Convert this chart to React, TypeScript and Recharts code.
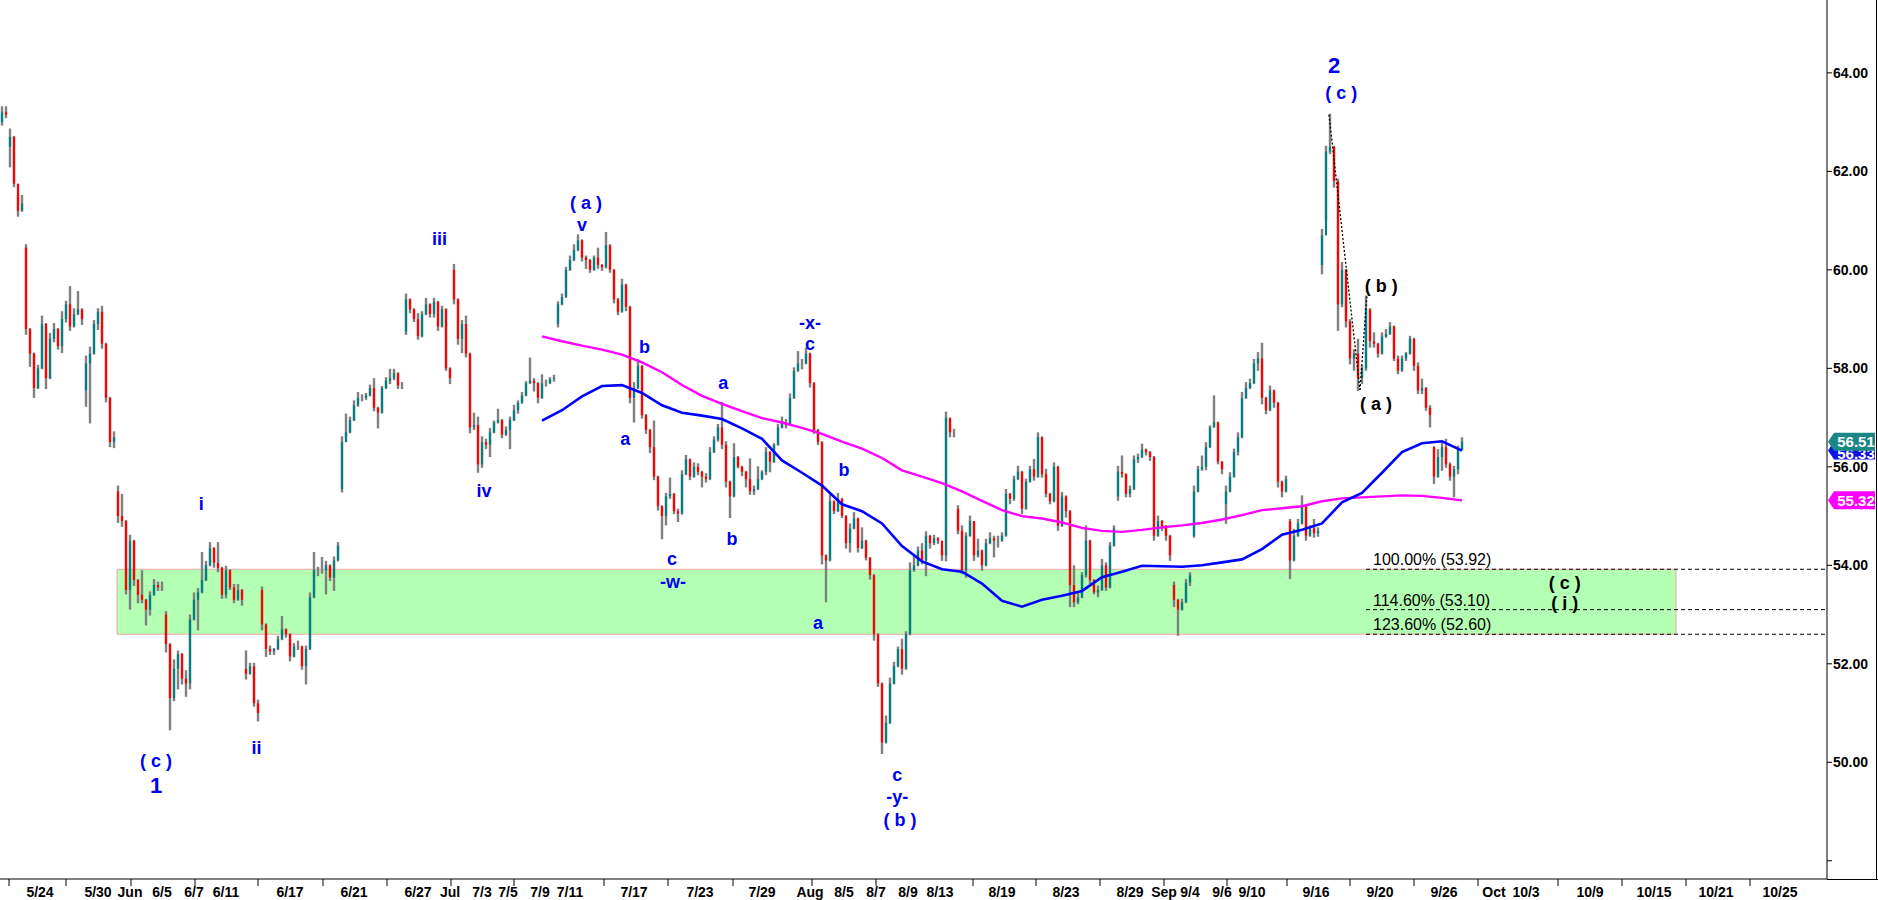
import React from "react";
import {
    ComposedChart,
    Bar,
    Line,
    XAxis,
    YAxis,
    ReferenceArea,
    ReferenceLine,
    ReferenceDot,
} from "recharts";

const FONT = '"Liberation Sans", Arial, sans-serif';

// bars: [high, low, close] or [high, low, close, open] when the bar opens away from the prior close
const mayJunBars = [
    [63.3, 62.95, 63.2, 63.0], [63.3, 63.1, 63.15], [62.85, 62.1, 62.7, 62.5], [62.7, 61.7, 61.75], [61.5, 61.1, 61.2],
    [61.5, 61.2, 61.35], [60.5, 58.7, 58.8, 60.45], [58.8, 58.05, 58.3], [58.3, 57.42, 57.6], [58.05, 57.6, 58.0],
    [59.05, 58.0, 58.9], [58.9, 57.6, 57.8], [58.7, 57.8, 58.6], [58.9, 58.55, 58.8], [58.8, 58.4, 58.45],
    [59.14, 58.33, 59.0], [59.35, 58.95, 59.3], [59.65, 58.78, 58.85], [59.2, 58.85, 59.1], [59.55, 59.1, 59.2],
    [59.2, 58.9, 59.0], [58.24, 57.24, 58.1, 57.55], [58.42, 56.9, 58.3], [58.96, 58.3, 58.9], [59.2, 58.8, 59.15],
    [59.25, 58.42, 58.5], [58.5, 57.33, 57.4], [57.4, 56.42, 56.5], [56.7, 56.4, 56.6], [55.6, 54.88, 55.0, 55.5],
    [55.43, 54.8, 54.9], [54.9, 53.43, 53.5], [54.6, 53.12, 54.5], [54.5, 53.6, 53.7], [53.7, 53.25, 53.4],
    [53.88, 53.25, 53.3], [53.3, 52.8, 53.1], [53.45, 53.0, 53.4], [53.7, 53.4, 53.6], [53.65, 53.5, 53.55],
    [53.65, 53.5, 53.55], [53.05, 52.25, 52.4, 53.0], [52.4, 50.67, 51.3], [52.07, 51.26, 51.9], [52.25, 51.5, 52.2],
    [52.2, 51.6, 51.7], [51.85, 51.35, 51.6], [52.98, 51.5, 52.9], [53.43, 52.9, 53.3], [53.52, 52.7, 53.45],
    [54.25, 53.45, 53.7], [54.07, 53.7, 54.0], [54.45, 54.0, 54.35], [54.35, 53.97, 54.05], [54.45, 53.88, 53.95],
    [53.95, 53.34, 53.4], [53.97, 53.35, 53.9], [53.9, 53.52, 53.55], [53.6, 53.25, 53.3], [53.6, 53.3, 53.5],
    [53.5, 53.2, 53.3], [52.25, 51.7, 51.8, 51.9], [52.0, 51.8, 51.95], [52.0, 51.15, 51.2], [51.25, 50.85, 51.0],
    [53.55, 52.7, 52.8, 53.5], [52.8, 52.16, 52.3], [52.35, 52.2, 52.25], [52.3, 52.2, 52.3], [52.55, 52.3, 52.5],
    [52.95, 52.5, 52.7], [52.7, 52.55, 52.6], [52.6, 52.07, 52.15], [52.4, 52.15, 52.35], [52.45, 52.3, 52.35],
    [52.35, 51.9, 51.95], [52.35, 51.6, 52.3], [53.43, 52.3, 53.35], [54.25, 53.35, 53.9], [53.95, 53.8, 53.9],
    [54.15, 53.85, 53.9], [54.07, 53.43, 54.0], [54.0, 53.7, 53.75], [54.16, 53.5, 54.1], [54.45, 54.1, 54.4],
    [56.6, 55.5, 56.5, 55.55], [57.06, 56.6, 56.7], [57.0, 56.7, 56.95], [57.33, 56.95, 57.25], [57.5, 57.24, 57.4],
    [57.45, 57.35, 57.4], [57.48, 57.38, 57.45], [57.65, 57.45, 57.6], [57.78, 57.15, 57.2], [57.2, 56.8, 57.1],
    [57.62, 57.1, 57.6], [57.8, 57.6, 57.75], [57.97, 57.7, 57.8], [57.97, 57.78, 57.9], [57.9, 57.6, 57.65],
    [57.7, 57.6, 57.65], [59.5, 58.7, 59.4, 58.75], [59.4, 59.14, 59.2], [59.2, 58.96, 59.0], [59.1, 58.6, 58.65],
    [59.14, 58.65, 59.1], [59.41, 59.1, 59.3], [59.3, 59.05, 59.1], [59.41, 59.05, 59.35], [59.35, 58.78, 58.85],
    [59.25, 58.85, 59.2], [59.2, 57.97, 58.0],
];

const julBars = [
    [58.0, 57.7, 57.8], [60.1, 59.32, 59.4, 60.0], [59.4, 58.5, 58.6], [58.96, 58.33, 58.9], [59.05, 58.24, 58.3],
    [58.3, 56.7, 56.8], [57.08, 56.77, 56.85], [57.0, 55.9, 56.05],
    [56.6, 56.0, 56.5], [56.55, 56.38, 56.45], [56.77, 56.22, 56.7], [56.92, 56.7, 56.9], [57.16, 56.9, 56.95],
    [56.95, 56.6, 56.65], [56.8, 56.65, 56.75], [57.0, 56.38, 56.95], [57.24, 56.95, 57.15], [57.33, 57.1, 57.3],
    [57.5, 57.3, 57.45], [57.72, 57.45, 57.7], [58.2, 57.7, 57.75], [57.78, 57.55, 57.7], [57.7, 57.31, 57.4],
    [57.86, 57.4, 57.7], [57.75, 57.65, 57.7], [57.8, 57.7, 57.78], [57.85, 57.75, 57.8], [59.34, 58.85, 59.3, 58.9],
    [59.5, 59.3, 59.45], [60.04, 59.45, 60.0], [60.27, 60.0, 60.2], [60.5, 60.2, 60.4], [60.7, 60.4, 60.6],
    [60.6, 60.19, 60.25], [60.27, 60.04, 60.2], [60.2, 59.96, 60.0], [60.27, 60.0, 60.25], [60.43, 60.04, 60.1],
    [60.1, 60.0, 60.05], [60.75, 60.05, 60.5], [60.5, 59.96, 60.0], [60.0, 59.34, 59.4], [59.41, 59.1, 59.15],
    [59.8, 59.15, 59.7], [59.7, 59.18, 59.25], [59.25, 57.31, 57.4], [57.7, 56.92, 57.6], [58.17, 57.6, 58.05],
    [58.05, 57.0, 57.05], [57.05, 56.69, 56.75], [56.75, 56.3, 56.4], [56.92, 55.75, 55.8], [55.8, 55.13, 55.2],
    [55.2, 54.55, 55.0], [55.45, 54.83, 55.4], [55.76, 55.37, 55.45], [55.45, 55.06, 55.1], [55.13, 54.9, 55.05],
    [55.91, 55.05, 55.85], [56.22, 55.85, 56.15], [56.15, 55.75, 55.8], [56.07, 55.8, 56.0], [56.05, 55.85, 55.9],
    [55.9, 55.6, 55.8], [55.85, 55.7, 55.75], [56.38, 55.75, 56.3], [56.6, 56.3, 56.55], [56.85, 56.53, 56.8],
    [57.3, 56.38, 56.45], [56.5, 55.6, 55.7], [55.7, 54.98, 55.4], [56.46, 55.4, 56.2], [56.2, 55.99, 56.0],
    [56.0, 55.83, 55.9], [55.9, 55.6, 55.75], [56.15, 55.45, 55.5], [55.6, 55.45, 55.55], [55.99, 55.55, 55.75],
    [55.91, 55.75, 55.9], [56.38, 55.85, 56.3], [56.3, 55.91, 56.1], [56.46, 56.1, 56.45], [56.85, 56.45, 56.8],
    [57.0, 56.8, 56.9], [56.95, 56.8, 56.85], [57.47, 56.85, 57.4], [58.0, 57.4, 57.95], [58.33, 57.95, 58.1],
    [58.17, 58.0, 58.1], [58.4, 58.1, 58.3],
];

const augBars = [
    [58.3, 57.63, 57.7], [57.7, 56.69, 56.75], [56.75, 56.46, 56.5], [56.5, 54.04, 54.2], [54.2, 53.27, 54.1],
    [55.45, 54.1, 55.3], [55.3, 55.06, 55.1], [55.45, 55.1, 55.35],
    [55.35, 54.98, 55.0], [55.0, 54.36, 54.45], [54.83, 54.28, 54.75], [55.06, 54.75, 54.95], [54.95, 54.28, 54.35],
    [54.75, 54.35, 54.5], [54.5, 54.12, 54.15], [54.15, 53.73, 53.8], [53.8, 52.49, 52.6], [52.6, 51.55, 51.6],
    [51.6, 50.19, 50.4], [50.93, 50.4, 50.8], [51.7, 50.8, 51.6], [52.02, 51.6, 51.95], [52.33, 51.95, 52.3],
    [52.49, 51.8, 51.9], [52.64, 51.9, 52.6], [54.04, 52.6, 53.9], [54.2, 53.89, 54.0], [54.36, 54.0, 54.3],
    [54.43, 54.04, 54.1], [54.67, 53.8, 54.6], [54.6, 54.36, 54.45], [54.6, 54.43, 54.55], [54.55, 54.45, 54.5],
    [54.3, 54.11, 54.2], [57.1, 54.1, 57.0], [56.95, 56.62, 56.7], [56.75, 56.62, 56.7], [55.2, 54.65, 54.7, 55.15],
    [54.79, 53.84, 53.9], [54.65, 53.77, 54.6], [54.99, 54.6, 54.9], [54.86, 54.11, 54.2], [54.52, 54.18, 54.3],
    [54.3, 53.91, 54.0], [54.52, 54.0, 54.45], [54.65, 54.45, 54.55], [54.58, 54.18, 54.5], [54.58, 54.38, 54.5],
    [54.65, 54.5, 54.6], [55.53, 54.6, 55.45], [55.45, 55.26, 55.35], [55.8, 55.33, 55.75], [56.0, 55.75, 55.9],
    [55.9, 55.06, 55.15], [55.74, 55.15, 55.7], [56.0, 55.7, 55.95], [56.14, 55.74, 55.8], [56.68, 55.8, 56.6],
    [56.6, 55.8, 55.85], [55.94, 55.4, 55.45], [55.45, 55.26, 55.3], [56.07, 55.3, 56.0], [56.0, 54.72, 54.8],
    [55.47, 54.8, 55.4], [55.4, 54.99, 55.1], [55.1, 53.17, 53.6], [53.98, 53.17, 53.25], [53.43, 53.23, 53.35],
    [53.84, 53.35, 53.8], [54.79, 53.77, 54.5], [54.5, 53.64, 53.7], [53.7, 53.43, 53.45], [53.57, 53.37, 53.5],
    [54.11, 53.5, 54.0], [54.04, 53.5, 53.55], [54.45, 53.55, 54.4], [54.79, 54.4, 54.75], [56.0, 55.33, 55.9, 55.4],
    [56.21, 55.8, 55.85], [55.85, 55.4, 55.45], [55.6, 55.4, 55.55], [56.21, 55.55, 56.15], [56.25, 56.1, 56.2],
    [56.45, 56.2, 56.35], [56.35, 56.25, 56.3], [56.3, 56.14, 56.2], [56.2, 54.52, 54.6], [54.99, 54.6, 54.9],
    [54.9, 54.72, 54.8],
];

const sepBars = [
    [54.8, 54.52, 54.6], [54.6, 54.11, 54.2], [53.65, 53.17, 53.3, 53.6], [53.3, 52.59, 53.1], [53.3, 53.1, 53.25],
    [53.7, 53.25, 53.65], [53.84, 53.6, 53.8], [55.6, 54.58, 55.5, 54.6], [56.0, 55.5, 55.95],
    [56.21, 55.94, 56.0], [56.48, 55.95, 56.4], [56.82, 56.4, 56.8], [57.43, 56.82, 56.9], [56.9, 56.07, 56.1],
    [56.1, 55.87, 55.95], [55.6, 54.86, 55.5, 55.25], [55.87, 55.5, 55.8], [56.35, 55.8, 56.3], [56.68, 56.25, 56.6],
    [57.5, 56.6, 57.4], [57.7, 57.4, 57.6], [57.77, 57.6, 57.7], [58.17, 57.7, 58.1], [58.31, 57.97, 58.2],
    [58.5, 57.29, 57.4], [57.4, 57.09, 57.15], [57.63, 57.15, 57.55], [57.55, 57.22, 57.3], [57.3, 55.6, 55.7],
    [55.7, 55.4, 55.5], [55.8, 55.5, 55.75], [54.92, 53.74, 54.1, 54.9], [54.72, 54.1, 54.6], [54.92, 54.6, 54.85],
    [55.4, 54.85, 55.2], [55.2, 54.52, 54.6], [54.79, 54.6, 54.75], [54.92, 54.58, 54.65], [54.75, 54.6, 54.7],
    [60.81, 59.93, 60.7, 60.1], [62.5, 61.02, 62.4], [63.15, 62.37, 62.5], [62.5, 61.69, 61.8], [61.83, 58.78, 59.3],
    [60.14, 59.26, 60.0], [60.0, 58.85, 58.95], [58.98, 58.1, 58.2], [58.37, 57.97, 58.3], [58.58, 57.56, 57.8],
    [58.04, 57.7, 58.0], [59.46, 57.97, 59.2], [59.2, 58.44, 58.55], [58.71, 58.44, 58.5], [58.5, 58.24, 58.3],
    [58.71, 58.3, 58.65], [58.78, 58.64, 58.7], [58.92, 58.7, 58.85], [58.85, 58.17, 58.2], [58.24, 57.9, 57.95],
    [58.24, 57.95, 58.2], [58.31, 58.17, 58.3], [58.64, 58.3, 58.6], [58.6, 57.97, 58.05], [58.1, 57.5, 57.55],
    [57.77, 57.5, 57.6], [57.6, 57.16, 57.2], [57.23, 56.82, 57.05], [56.4, 55.67, 55.8, 56.4], [56.34, 55.8, 56.2],
    [56.48, 55.94, 56.4], [56.55, 56.0, 56.05], [56.07, 55.74, 55.8], [56.0, 55.4, 55.95], [56.41, 55.87, 56.35],
    [56.58, 56.35, 56.51],
];

// moving averages read every 5 bars, starting at bar 135
const maStart = 135;
const maStep = 5;
const blueMa = [
    56.94, 57.15, 57.43, 57.64, 57.66, 57.5, 57.25, 57.1, 57.04, 56.97, 56.78, 56.57, 56.13, 55.88, 55.62, 55.24,
    55.1, 54.85, 54.39, 54.08, 53.92, 53.87, 53.63, 53.28, 53.16, 53.3, 53.38, 53.48, 53.76, 53.87, 53.99, 53.98,
    53.97, 54.0, 54.06, 54.12, 54.33, 54.62, 54.72, 54.85, 55.28, 55.47, 55.88, 56.3, 56.48, 56.52, 56.33,
];
const pinkMa = [
    58.65, 58.55, 58.46, 58.38, 58.28, 58.12, 57.92, 57.66, 57.44, 57.28, 57.13, 56.99, 56.9, 56.79, 56.67, 56.51,
    56.37, 56.18, 55.93, 55.8, 55.67, 55.5, 55.31, 55.12, 55.0, 54.95, 54.87, 54.76, 54.7, 54.68, 54.72, 54.77,
    54.81, 54.86, 54.93, 55.02, 55.12, 55.16, 55.2, 55.3, 55.36, 55.38, 55.4, 55.42, 55.41, 55.37, 55.32,
];

// date labels at bar positions (4 bars per trading day)
const dateTicks: [string, number][] = [
    ["5/24", 9.5], ["5/30", 24], ["Jun", 32], ["6/5", 40], ["6/7", 48], ["6/11", 56], ["6/17", 72],
    ["6/21", 88], ["6/27", 104], ["Jul", 112], ["7/3", 120], ["7/5", 126.5], ["7/9", 134.5], ["7/11", 142],
    ["7/17", 158], ["7/23", 174.5], ["7/29", 190], ["Aug", 202], ["8/5", 210.5], ["8/7", 218.5], ["8/9", 226.5],
    ["8/13", 234.5], ["8/19", 250], ["8/23", 266], ["8/29", 282], ["Sep", 290.5], ["9/4", 297], ["9/6", 305],
    ["9/10", 312.5], ["9/16", 328.5], ["9/20", 344.5], ["9/26", 360.5], ["Oct", 373], ["10/3", 381],
    ["10/9", 397], ["10/15", 413], ["10/21", 428.5], ["10/25", 444.5],
];
const weekMarks = [
    1.75, 16, 32.25, 48.25, 64, 80.25, 96.25, 112.25, 128, 150.5, 166.5, 182.75, 202.5, 218.5, 242.75, 258.5,
    274.5, 290.5, 306.25, 321.25, 337, 353, 369, 389, 405, 421, 437,
];
const priceTicks = [48, 50, 52, 54, 56, 58, 60, 62, 64];

// wave counts: [bar, price, text]
const blueNotes: [number, number, string][] = [
    [38.5, 50.02, "( c )"], [49.8, 55.24, "i"], [63.6, 50.3, "ii"], [109.4, 60.62, "iii"], [120.5, 55.5, "iv"],
    [146, 61.36, "( a )"], [145, 60.92, "v"], [155.8, 56.56, "a"], [160.6, 58.43, "b"], [167.5, 54.13, "c"],
    [167.75, 53.67, "-w-"], [180.3, 57.7, "a"], [182.5, 54.54, "b"], [202, 58.93, "-x-"], [202, 58.5, "c"],
    [204, 52.82, "a"], [210.5, 55.93, "b"], [223.8, 49.74, "c"], [223.8, 49.3, "-y-"], [224.5, 48.83, "( b )"],
    [334.8, 63.6, "( c )"],
];
const bigNotes: [number, number, string][] = [[38.5, 49.52, "1"], [333, 64.15, "2"]];
const blackNotes: [number, number, string][] = [
    [344.8, 59.68, "( b )"], [343.5, 57.27, "( a )"], [390.7, 53.65, "( c )"], [390.7, 53.23, "( i )"],
];
const wavePath: [number, number][] = [[331.75, 63.15], [339.5, 57.56], [341.2, 59.46]];

const fibLevels = [
    { pct: "100.00%", price: 53.92 },
    { pct: "114.60%", price: 53.1 },
    { pct: "123.60%", price: 52.6 },
];
const fibStart = 341;
const fibText = 342.75;
const zoneStart = 28.75;
const zoneEnd = 418.5;

const X_MAX = 456.25;

const allBars = [...mayJunBars, ...julBars, ...augBars, ...sepBars];
const rows: any[] = allBars.map((b, k) => {
    const prevClose = k > 0 ? allBars[k - 1][2] : b[2];
    return { k, h: b[0], l: b[1], c: b[2], o: b.length > 3 ? b[3] : prevClose };
});
blueMa.forEach((v, j) => { rows[maStart + j * maStep].blue = v; });
pinkMa.forEach((v, j) => { rows[maStart + j * maStep].pink = v; });

const lastClose = allBars[allBars.length - 1][2];
const lastBlue = blueMa[blueMa.length - 1];
const lastPink = pinkMa[pinkMa.length - 1];

const labelAt = new Map(dateTicks.map(([t, k]) => [k, t]));
const markSet = new Set(weekMarks);
const xTickValues = Array.from(new Set([...dateTicks.map((d) => d[1]), ...weekMarks])).sort((a, b) => a - b);

function renderCandle(props: any) {
    const { x, y, width, height, payload } = props;
    if (payload == null || x == null || y == null) return <g />;
    const { o, h, l, c } = payload;
    const span = h - l;
    const toY = (p: number) => (span > 0 ? y + ((h - p) / span) * height : y);
    const cx = x + width / 2;
    return (
        <g>
            <line x1={cx} x2={cx} y1={y - 1} y2={y + height + 1} stroke="#808080" strokeWidth={2.4} />
            <line x1={cx} x2={cx} y1={toY(o)} y2={toY(c)} stroke={c >= o ? "#008080" : "#ff0000"} strokeWidth={2.2} />
        </g>
    );
}

function XTick(props: any) {
    const { x, y, payload } = props;
    const label = labelAt.get(payload.value);
    return (
        <g>
            {markSet.has(payload.value) && <line x1={x} x2={x} y1={y} y2={y + 7} stroke="#000" />}
            {label && (
                <text x={x} y={y + 18} textAnchor="middle" fontSize={14} fontWeight="bold" fill="#000" fontFamily={FONT}>
                    {label}
                </text>
            )}
        </g>
    );
}

function YTick(props: any) {
    const { x, y, payload } = props;
    if (payload.value === 48) return <g />;
    return (
        <text x={x} y={y + 5} fontSize={14} fontWeight="bold" fill="#000" fontFamily={FONT}>
            {payload.value.toFixed(2)}
        </text>
    );
}

function noteShape(text: string, fill: string, size: number, weight: string, anchor = "middle", dy = 0) {
    return (props: any) => (
        <text
            x={props.cx}
            y={props.cy + dy}
            textAnchor={anchor}
            dominantBaseline="central"
            fontSize={size}
            fontWeight={weight}
            fill={fill}
            fontFamily={FONT}
        >
            {text}
        </text>
    );
}

function priceTag(value: number, fill: string, textDy: number) {
    return (props: any) => {
        const { cx, cy } = props;
        return (
            <g>
                <polygon
                    points={`${cx + 1},${cy} ${cx + 7},${cy - 9} ${cx + 48},${cy - 9} ${cx + 48},${cy + 9} ${cx + 7},${cy + 9}`}
                    fill={fill}
                />
                <text x={cx + 29} y={cy + textDy} textAnchor="middle" fontSize={15} fontWeight="bold" fill="#fff" fontFamily={FONT}>
                    {value.toFixed(2)}
                </text>
            </g>
        );
    };
}

export default function App() {
    return (
        <div style={{ position: "absolute", left: 0, top: 0, width: 1878, height: 900, background: "#fff", fontFamily: FONT }}>
            <ComposedChart width={1878} height={900} data={rows} margin={{ top: 0, right: 0, bottom: 0, left: 0 }}>
                <XAxis
                    dataKey="k"
                    type="number"
                    domain={[-0.5, X_MAX]}
                    allowDataOverflow
                    ticks={xTickValues}
                    interval={0}
                    tick={<XTick />}
                    tickLine={false}
                    tickSize={0}
                    tickMargin={0}
                    height={21}
                    stroke="#000"
                />
                <YAxis
                    orientation="right"
                    type="number"
                    domain={[47.63, 65.48]}
                    allowDataOverflow
                    ticks={priceTicks}
                    interval={0}
                    width={51}
                    tick={<YTick />}
                    tickSize={5}
                    tickMargin={1}
                    stroke="#000"
                />
                <ReferenceArea
                    x1={zoneStart}
                    x2={zoneEnd}
                    y1={fibLevels[2].price}
                    y2={fibLevels[0].price}
                    fill="#b3ffb3"
                    fillOpacity={1}
                    stroke="#f2a5a5"
                    ifOverflow="visible"
                />
                {fibLevels.map((f) => (
                    <ReferenceLine
                        key={f.pct}
                        segment={[{ x: fibStart, y: f.price }, { x: X_MAX, y: f.price }]}
                        stroke="#000"
                        strokeDasharray="4 3"
                        ifOverflow="visible"
                    />
                ))}
                <Bar dataKey={(d: any) => [d.l, d.h]} barSize={2} shape={renderCandle} isAnimationActive={false} />
                <Line dataKey="pink" stroke="#ff00ff" strokeWidth={2.4} dot={false} connectNulls isAnimationActive={false} />
                <Line dataKey="blue" stroke="#0000ff" strokeWidth={2.6} dot={false} connectNulls isAnimationActive={false} />
                {wavePath.slice(1).map((pt, i) => (
                    <ReferenceLine
                        key={"w" + i}
                        segment={[{ x: wavePath[i][0], y: wavePath[i][1] }, { x: pt[0], y: pt[1] }]}
                        stroke="#000"
                        strokeDasharray="2 2"
                        strokeWidth={1.3}
                        ifOverflow="visible"
                    />
                ))}
                {fibLevels.map((f) => (
                    <ReferenceDot
                        key={"t" + f.pct}
                        x={fibText}
                        y={f.price}
                        r={1}
                        ifOverflow="visible"
                        shape={noteShape(`${f.pct} (${f.price.toFixed(2)})`, "#000", 16, "normal", "start", -9.5)}
                    />
                ))}
                {blueNotes.map(([k, p, t], i) => (
                    <ReferenceDot key={"b" + i} x={k} y={p} r={1} ifOverflow="visible" shape={noteShape(t, "#0000ee", 18, "bold")} />
                ))}
                {bigNotes.map(([k, p, t], i) => (
                    <ReferenceDot key={"g" + i} x={k} y={p} r={1} ifOverflow="visible" shape={noteShape(t, "#0000ee", 22, "bold")} />
                ))}
                {blackNotes.map(([k, p, t], i) => (
                    <ReferenceDot key={"k" + i} x={k} y={p} r={1} ifOverflow="visible" shape={noteShape(t, "#000", 18, "bold")} />
                ))}
                <ReferenceDot x={X_MAX} y={lastPink} r={1} ifOverflow="visible" shape={priceTag(lastPink, "#ff00ff", 5.5)} />
                <ReferenceDot x={X_MAX} y={lastBlue} r={1} ifOverflow="visible" shape={priceTag(lastBlue, "#1010e8", 8)} />
                <ReferenceDot x={X_MAX} y={lastClose} r={1} ifOverflow="visible" shape={priceTag(lastClose, "#1b8686", 5.5)} />
            </ComposedChart>
            <div style={{ position: "absolute", left: 1827, top: 879, width: 51, height: 1, background: "#000" }} />
            <div style={{ position: "absolute", left: 1876, top: 0, width: 1, height: 879, background: "#000" }} />
        </div>
    );
}
